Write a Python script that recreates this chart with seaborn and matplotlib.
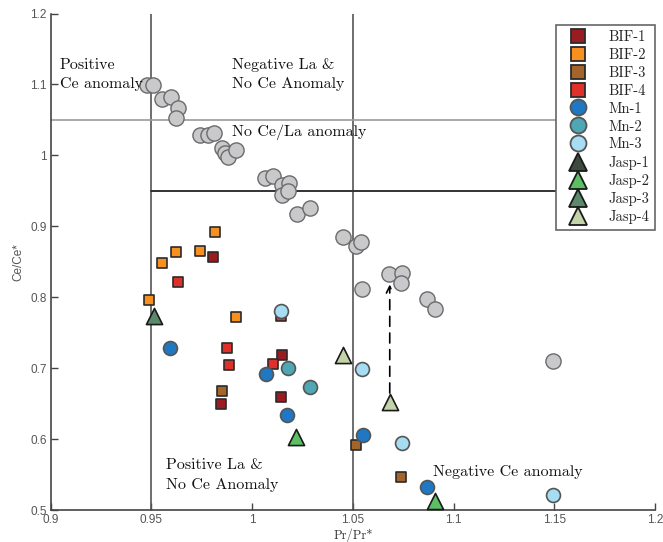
import matplotlib
matplotlib.use("Agg")
import matplotlib.pyplot as plt
from matplotlib.lines import Line2D
from matplotlib.ticker import FuncFormatter
import seaborn as sns
import pandas as pd

sns.set_theme(style="white")
SERIF = ["cmr10", "DejaVu Serif"]

# Reference (grey) samples
ref_x = [0.9478, 0.9507, 0.9553, 0.9597, 0.9632, 0.9622, 0.9742, 0.9781, 0.9811,
         0.9850, 0.9866, 0.9880, 0.9920, 1.0063, 1.0103, 1.0147, 1.0182, 1.0147,
         1.0177, 1.0222, 1.0287, 1.0451, 1.0515, 1.0540, 1.0545, 1.0678, 1.0742,
         1.0737, 1.0867, 1.0906, 1.1492]
ref_y = [1.0992, 1.0992, 1.0794, 1.0822, 1.0667, 1.0526, 1.0286, 1.0286, 1.0314,
         1.0103, 1.0032, 0.9976, 1.0075, 0.9680, 0.9708, 0.9581, 0.9609, 0.9440,
         0.9496, 0.9172, 0.9257, 0.8848, 0.8721, 0.8777, 0.8114, 0.8326, 0.8340,
         0.8199, 0.7973, 0.7832, 0.7099]

# Sample groups
bif1_x = [0.9806, 1.0147, 1.0143, 0.9845]
bif1_y = [0.8566, 0.7183, 0.6591, 0.6492]
bif2_x = [0.9815, 0.9741, 0.9623, 0.9553, 0.9488, 0.9921]
bif2_y = [0.8920, 0.8650, 0.8636, 0.8481, 0.7959, 0.7719]
bif3_x = [0.9850, 1.0515, 1.0738]
bif3_y = [0.6676, 0.5914, 0.5467]
bif4_x = [0.9630, 0.9875, 0.9885, 1.0103, 1.0143]
bif4_y = [0.8213, 0.7282, 0.7042, 0.7056, 0.7741]
mn1_x = [0.9592, 1.0068, 1.0172, 1.0549, 1.0867]
mn1_y = [0.7282, 0.6915, 0.6337, 0.6055, 0.5322]
mn2_x = [1.0177, 1.0289]
mn2_y = [0.7005, 0.6732]
mn3_x = [1.0143, 1.0545, 1.0742, 1.1492]
mn3_y = [0.7801, 0.6986, 0.5949, 0.5209]
jasp1_x = []
jasp1_y = []
jasp2_x = [1.0218, 1.0906]
jasp2_y = [0.6028, 0.5124]
jasp3_x = [0.9513]
jasp3_y = [0.7734]
jasp4_x = [1.0451, 1.0683]
jasp4_y = [0.7183, 0.6520]

groups = [
    ("BIF-1", bif1_x, bif1_y, "s", "#9b1c20"),
    ("BIF-2", bif2_x, bif2_y, "s", "#f7901e"),
    ("BIF-3", bif3_x, bif3_y, "s", "#a5652a"),
    ("BIF-4", bif4_x, bif4_y, "s", "#e0302a"),
    ("Mn-1", mn1_x, mn1_y, "o", "#1f78c1"),
    ("Mn-2", mn2_x, mn2_y, "o", "#4fa7b4"),
    ("Mn-3", mn3_x, mn3_y, "o", "#a6ddf3"),
    ("Jasp-1", jasp1_x, jasp1_y, "^", "#3f4a3e"),
    ("Jasp-2", jasp2_x, jasp2_y, "^", "#5cbf64"),
    ("Jasp-3", jasp3_x, jasp3_y, "^", "#5a8a6b"),
    ("Jasp-4", jasp4_x, jasp4_y, "^", "#c3d4aa"),
]
sizes = {"s": 62, "o": 100, "^": 135}
edges = {"s": "#2b2b2b", "o": "#555555", "^": "#1a1a1a"}

# Arrow showing the shift of a sample
arrow_x = 1.0683
arrow_y0, arrow_y1 = 0.665, 0.818

fig = plt.figure(figsize=(6.63, 5.42), dpi=100)
ax = fig.add_axes([0.0765, 0.059, 0.9115, 0.916])

# Field boundaries
ax.plot([0.95, 0.95], [0.5, 1.2], color="#555555", lw=1.2, zorder=1)
ax.plot([1.05, 1.05], [0.5, 1.2], color="#555555", lw=1.2, zorder=1)
ax.plot([0.9, 1.2], [1.05, 1.05], color="#9a9a9a", lw=1.2, zorder=1)
ax.plot([0.95, 1.2], [0.95, 0.95], color="#333333", lw=1.4, zorder=1)

sns.scatterplot(x=ref_x, y=ref_y, ax=ax, marker="o", s=120, color="#c9c9cc",
                edgecolor="#6b6b6b", linewidth=1.0, zorder=3, legend=False)

for name, xs, ys, mk, col in groups:
    if len(xs) == 0:
        continue
    df = pd.DataFrame({"x": xs, "y": ys})
    sns.scatterplot(data=df, x="x", y="y", ax=ax, marker=mk, s=sizes[mk],
                    color=col, edgecolor=edges[mk], linewidth=1.2,
                    zorder=4, legend=False)

ax.annotate("", xy=(arrow_x, arrow_y1), xytext=(arrow_x, arrow_y0),
            arrowprops=dict(arrowstyle="->", color="black", lw=1.2,
                            linestyle=(0, (6, 4)), shrinkA=0, shrinkB=0),
            zorder=2)

tkw = dict(fontsize=11.5, family=SERIF, color="#111111", zorder=5)
ax.text(0.9046, 1.127, "Positive", va="center", **tkw)
ax.text(0.9046, 1.100, "Ce anomaly", va="center", **tkw)
ax.text(0.9900, 1.127, "Negative La &", va="center", **tkw)
ax.text(0.9900, 1.100, "No Ce Anomaly", va="center", **tkw)
ax.text(0.9900, 1.033, "No Ce/La anomaly", va="center", **tkw)
ax.text(0.9570, 0.563, "Positive La &", va="center", **tkw)
ax.text(0.9570, 0.535, "No Ce Anomaly", va="center", **tkw)
ax.text(1.0897, 0.553, "Negative Ce anomaly", va="center", **tkw)

ax.set_xlim(0.9, 1.2)
ax.set_ylim(0.5, 1.2)
ax.set_xticks([0.9, 0.95, 1.0, 1.05, 1.1, 1.15, 1.2])
ax.set_yticks([0.5, 0.6, 0.7, 0.8, 0.9, 1.0, 1.1, 1.2])
fmt = FuncFormatter(lambda v, p: f"{v:g}")
ax.xaxis.set_major_formatter(fmt)
ax.yaxis.set_major_formatter(fmt)
ax.tick_params(direction="in", length=5, width=1, colors="#444444",
               labelsize=8.5, labelcolor="#555555", pad=3,
               bottom=True, left=True)
for lbl in ax.get_xticklabels() + ax.get_yticklabels():
    lbl.set_family("Liberation Sans")
for side in ("top", "right"):
    ax.spines[side].set_visible(False)
for side in ("left", "bottom"):
    ax.spines[side].set_color("#444444")
    ax.spines[side].set_linewidth(1.2)

ax.set_xlabel("Pr/Pr*", fontsize=9, family=SERIF, color="#333333", labelpad=2)
ax.set_ylabel("Ce/Ce*", fontsize=8.5, family="Liberation Sans", color="#555555",
              labelpad=4)

handles = []
for name, xs, ys, mk, col in groups:
    ms = {"s": 9.5, "o": 11.5, "^": 13.5}[mk]
    handles.append(Line2D([], [], linestyle="none", marker=mk, markersize=ms,
                          markerfacecolor=col, markeredgecolor=edges[mk],
                          markeredgewidth=1.3, label=name))
leg = ax.legend(handles=handles, loc="upper right", bbox_to_anchor=(1.0, 0.977),
                prop={"family": SERIF, "size": 10.5}, frameon=True, fancybox=False,
                edgecolor="#666666", framealpha=1, handletextpad=1.0,
                labelspacing=0.29, borderpad=0.35, handlelength=2.3,
                borderaxespad=0.0)
leg.get_frame().set_linewidth(1.2)
leg.set_zorder(10)

fig.savefig("out.png", dpi=100)
